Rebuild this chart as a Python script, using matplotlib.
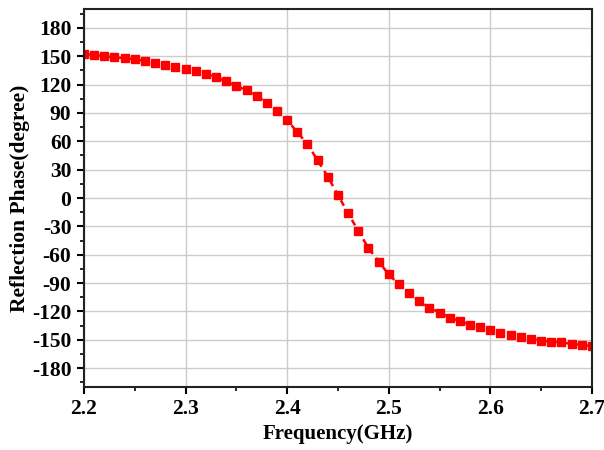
import numpy as np
import matplotlib.pyplot as plt
from matplotlib.ticker import MultipleLocator

plt.rcParams['font.family'] = ['Liberation Serif', 'DejaVu Serif']
plt.rcParams['font.weight'] = 'bold'
plt.rcParams['axes.unicode_minus'] = False

# frequency points (GHz), 2.20 to 2.70 step 0.01
freq = [2.20, 2.21, 2.22, 2.23, 2.24, 2.25, 2.26, 2.27, 2.28, 2.29,
        2.30, 2.31, 2.32, 2.33, 2.34, 2.35, 2.36, 2.37, 2.38, 2.39,
        2.40, 2.41, 2.42, 2.43, 2.44, 2.45, 2.46, 2.47, 2.48, 2.49,
        2.50, 2.51, 2.52, 2.53, 2.54, 2.55, 2.56, 2.57, 2.58, 2.59,
        2.60, 2.61, 2.62, 2.63, 2.64, 2.65, 2.66, 2.67, 2.68, 2.69, 2.70]
# reflection phase (degree)
phase = [152.5, 151.5, 150.0, 148.9, 147.9, 146.8, 145.1, 143.0, 141.2, 139.1,
         136.8, 134.0, 131.2, 127.8, 123.3, 118.6, 113.8, 107.6, 101.0, 91.7,
         82.6, 69.5, 57.2, 39.8, 22.6, 3.2, -16.3, -34.6, -53.0, -67.2,
         -80.9, -91.5, -101.0, -109.0, -116.0, -121.2, -126.5, -130.3, -133.9, -137.0,
         -140.2, -142.4, -144.8, -146.9, -149.0, -150.8, -151.9, -152.9, -154.3, -155.4,
         -156.8]

fig = plt.figure(figsize=(6.04, 4.5), dpi=100)
ax = fig.add_axes([0.139, 0.14, 0.841, 0.84])

ax.plot(freq, phase, color='red', linestyle=(0, (2.5, 2)), linewidth=1.8,
        marker='s', markersize=6.3, markerfacecolor='red', markeredgecolor='red')

ax.set_xlim(2.2, 2.7)
ax.set_ylim(-200, 200)
ax.xaxis.set_major_locator(MultipleLocator(0.1))
ax.xaxis.set_minor_locator(MultipleLocator(0.05))
ax.set_yticks(np.arange(-180, 181, 30))
ax.yaxis.set_minor_locator(MultipleLocator(15))
ax.set_xticklabels([f'{v:.1f}' for v in ax.get_xticks()])

ax.grid(True, which='major', color='#cccccc', linewidth=1)
ax.set_axisbelow(True)
ax.tick_params(which='major', direction='out', length=5, width=1.5,
               labelsize=15.5, pad=4)
ax.tick_params(which='minor', direction='out', length=3, width=1.2)
for s in ax.spines.values():
    s.set_linewidth(1.5)
    s.set_color('#222222')

ax.set_xlabel('Frequency(GHz)', fontsize=15, fontweight='bold', labelpad=3)
ax.set_ylabel('Reflection Phase(degree)', fontsize=15.5, fontweight='bold', labelpad=1)

fig.savefig('out.png', dpi=100)
